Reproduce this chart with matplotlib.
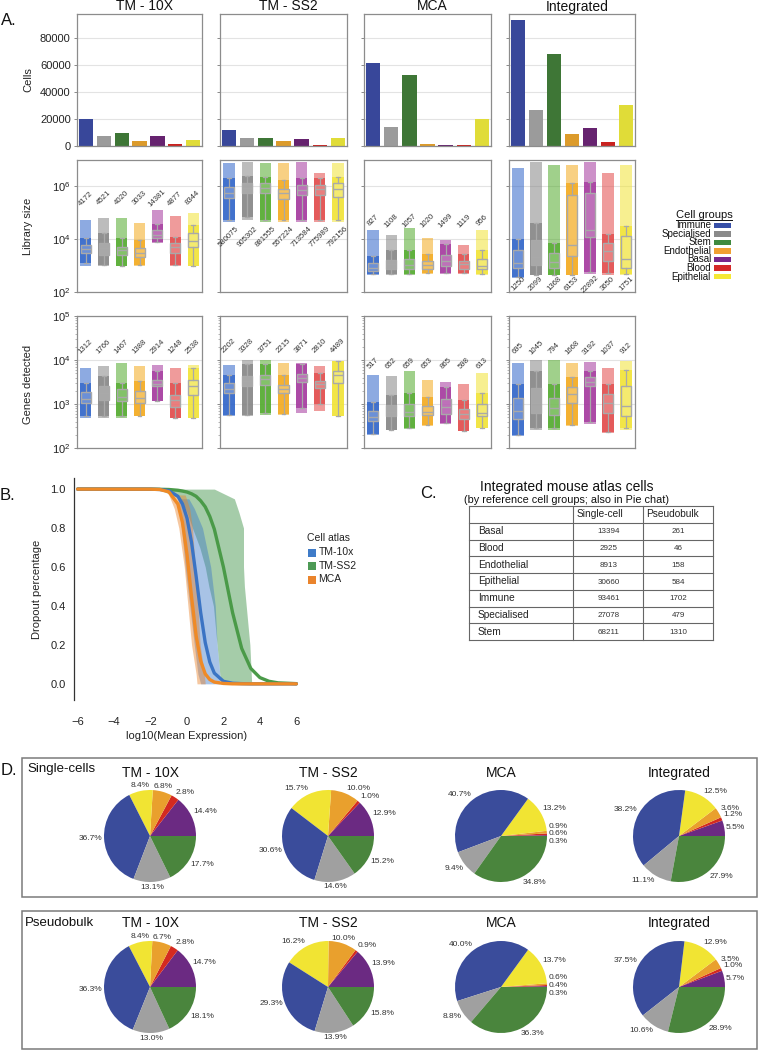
import matplotlib
matplotlib.use("Agg")
import matplotlib.pyplot as plt
from matplotlib.patches import Rectangle
from matplotlib.lines import Line2D
from matplotlib.ticker import NullLocator, LogLocator, FixedLocator, FormatStrFormatter
import numpy as np

plt.rcParams['font.family'] = ['Liberation Sans', 'DejaVu Sans']
plt.rcParams['mathtext.fontset'] = 'custom'
plt.rcParams['mathtext.rm'] = 'Liberation Sans'
plt.rcParams['mathtext.it'] = 'Liberation Sans:italic'
plt.rcParams['mathtext.bf'] = 'Liberation Sans:bold'
plt.rcParams['axes.unicode_minus'] = True

# ------------------------------------------------------------------ data
groups = ["Immune", "Specialised", "Stem", "Endothelial", "Basal", "Blood", "Epithelial"]
atlases = ["TM - 10X", "TM - SS2", "MCA", "Integrated"]

# Panel C table (alphabetical order, also pie order)
table_groups = ["Basal", "Blood", "Endothelial", "Epithelial", "Immune", "Specialised", "Stem"]
table_single = [13394, 2925, 8913, 30660, 93461, 27078, 68211]
table_pseudo = [261, 46, 158, 584, 1702, 479, 1310]

# Panel A row 1: number of cells (order = groups)
cells_tm10x = [19800, 7070, 9560, 3670, 7780, 1510, 4540]
cells_tmss2 = [11890, 5670, 5900, 3890, 5010, 390, 6100]
cells_mca = [61430, 14190, 52520, 1360, 450, 905, 19920]
cells_integrated = [table_single[table_groups.index(g)] for g in groups]

# Panel A rows 2/3: medians (labels) and log10 spreads
# spread tuple: (cloud_low, whisker_low, q1, q3, whisker_high, cloud_high) in log10
lib_med_tm10x = [4172, 4521, 4020, 3033, 14381, 4877, 8344]
lib_med_tmss2 = [580075, 905302, 881555, 557224, 713584, 775989, 792156]
lib_med_mca = [827, 1108, 1057, 1020, 1499, 1119, 956]
lib_med_integrated = [1250, 2099, 1368, 6153, 22892, 3650, 1751]

lib_spread_tm10x = [(2.97, 3.09, 3.47, 3.79, 4.04, 4.73), (2.97, 3.03, 3.41, 3.85, 4.23, 4.79),
                    (2.97, 3.00, 3.41, 3.72, 4.04, 4.80), (2.97, 3.03, 3.32, 3.66, 3.97, 4.60),
                    (3.85, 3.90, 4.04, 4.35, 4.58, 5.10), (2.97, 3.03, 3.47, 3.85, 4.10, 4.86),
                    (2.97, 2.97, 3.72, 4.23, 4.54, 4.98)]
lib_spread_tmss2 = [(4.67, 4.73, 5.55, 5.99, 6.30, 6.87), (4.73, 4.85, 5.74, 6.11, 6.41, 6.93),
                    (4.67, 4.73, 5.74, 6.11, 6.36, 6.87), (4.67, 4.73, 5.51, 5.92, 6.23, 6.87),
                    (4.67, 4.73, 5.67, 6.05, 6.30, 6.93), (4.67, 4.73, 5.67, 6.05, 6.30, 6.49),
                    (4.67, 4.73, 5.61, 6.11, 6.36, 6.87)]
lib_spread_mca = [(2.65, 2.70, 2.78, 3.09, 3.35, 4.35), (2.65, 2.69, 2.87, 3.22, 3.60, 4.16),
                  (2.65, 2.69, 2.87, 3.25, 3.60, 4.41), (2.69, 2.72, 2.87, 3.16, 3.45, 4.04),
                  (2.69, 2.72, 2.97, 3.41, 3.80, 3.97), (2.69, 2.72, 2.87, 3.16, 3.45, 3.79),
                  (2.65, 2.69, 2.87, 3.25, 3.60, 4.35)]
lib_spread_integrated = [(2.53, 2.55, 2.91, 3.60, 4.00, 6.68), (2.65, 2.65, 3.03, 3.97, 4.60, 6.93),
                         (2.65, 2.65, 2.91, 3.47, 3.85, 6.81), (2.65, 2.65, 3.35, 5.67, 6.11, 6.81),
                         (2.70, 2.75, 4.08, 5.74, 6.18, 6.93), (2.65, 2.72, 3.16, 3.85, 4.20, 6.49),
                         (2.65, 2.69, 2.91, 4.13, 4.51, 6.81)]

genes_med_tm10x = [1312, 1766, 1467, 1388, 2914, 1248, 2538]
genes_med_tmss2 = [2202, 3328, 3751, 2215, 3871, 2810, 4489]
genes_med_mca = [517, 652, 659, 653, 865, 598, 613]
genes_med_integrated = [695, 1045, 794, 1668, 3192, 1037, 912]

genes_spread_tm10x = [(2.68, 2.72, 3.02, 3.27, 3.48, 3.82), (2.68, 2.72, 3.10, 3.40, 3.63, 3.86),
                      (2.68, 2.72, 3.06, 3.33, 3.48, 3.93), (2.72, 2.72, 3.02, 3.29, 3.52, 3.86),
                      (3.06, 3.06, 3.40, 3.55, 3.74, 3.89), (2.68, 2.68, 2.93, 3.21, 3.48, 3.82),
                      (2.68, 2.68, 3.21, 3.55, 3.82, 3.89)]
genes_spread_tmss2 = [(2.72, 2.75, 3.25, 3.48, 3.67, 3.89), (2.72, 2.75, 3.40, 3.63, 3.90, 4.00),
                      (2.75, 2.80, 3.44, 3.67, 3.90, 4.00), (2.75, 2.78, 3.25, 3.44, 3.65, 3.93),
                      (2.80, 2.90, 3.49, 3.69, 3.90, 3.93), (2.85, 3.00, 3.36, 3.53, 3.70, 3.86),
                      (2.72, 2.72, 3.48, 3.74, 3.98, 3.98)]
genes_spread_mca = [(2.30, 2.32, 2.61, 2.83, 3.05, 3.67), (2.42, 2.42, 2.72, 2.98, 3.20, 3.63),
                    (2.43, 2.45, 2.72, 3.00, 3.25, 3.74), (2.50, 2.52, 2.74, 2.95, 3.15, 3.55),
                    (2.55, 2.56, 2.78, 3.11, 3.38, 3.50), (2.38, 2.38, 2.67, 2.89, 3.10, 3.45),
                    (2.45, 2.45, 2.73, 2.99, 3.25, 3.70)]
genes_spread_integrated = [(2.27, 2.30, 2.66, 3.14, 3.45, 3.93), (2.42, 2.45, 2.80, 3.36, 3.75, 4.00),
                           (2.42, 2.45, 2.76, 3.14, 3.45, 4.00), (2.50, 2.52, 3.02, 3.38, 3.62, 3.93),
                           (2.55, 2.60, 3.40, 3.61, 3.75, 3.95), (2.35, 2.37, 2.80, 3.23, 3.45, 3.82),
                           (2.42, 2.45, 2.73, 3.40, 3.78, 3.98)]

# Panel B: fitted dropout curves
b_x = [-6, -2, -1.5, -1, -0.5, -0.25, 0, 0.25, 0.5, 0.75, 1, 1.25, 1.5, 2, 2.5, 3, 3.5, 4, 4.5, 5, 6]
b_tm10x = [1.0, 0.9996, 0.998, 0.992, 0.963, 0.924, 0.851, 0.726, 0.553, 0.366, 0.212, 0.112, 0.055,
           0.013, 0.003, 0.001, 0.0, 0.0, 0.0, 0.0, 0.0]
b_tmss2 = [1.0, 0.9997, 0.999, 0.998, 0.994, 0.990, 0.985, 0.976, 0.963, 0.940, 0.909, 0.860, 0.794,
           0.599, 0.366, 0.182, 0.079, 0.032, 0.013, 0.005, 0.001]
b_mca = [1.0, 0.9996, 0.998, 0.986, 0.923, 0.829, 0.665, 0.446, 0.247, 0.118, 0.051, 0.022, 0.009,
         0.002, 0.0, 0.0, 0.0, 0.0, 0.0, 0.0, 0.0]
# extent of the point clouds (dropout level, left and right x)
cloud_tmss2_y = [1.0, 0.95, 0.88, 0.8, 0.7, 0.6, 0.5, 0.4, 0.3, 0.2, 0.1, 0.0]
cloud_tmss2_lo = [-1.6, -0.35, 0.0, 0.3, 0.7, 1.0, 1.2, 1.45, 1.55, 1.65, 1.75, 1.85]
cloud_tmss2_hi = [1.5, 2.6, 2.85, 3.1, 3.1, 3.1, 3.15, 3.25, 3.35, 3.45, 3.5, 3.55]
cloud_tm10x_y = [0.95, 0.9, 0.8, 0.6, 0.4, 0.2, 0.05, 0.0]
cloud_tm10x_lo = [-0.5, -0.45, -0.3, -0.1, 0.15, 0.4, 0.6, 0.75]
cloud_tm10x_hi = [0.1, 0.4, 0.85, 1.3, 1.55, 1.65, 1.8, 1.8]
cloud_mca_y = [0.97, 0.9, 0.8, 0.6, 0.4, 0.2, 0.05, 0.0]
cloud_mca_lo = [-1.0, -0.7, -0.45, -0.15, 0.05, 0.25, 0.5, 0.55]
cloud_mca_hi = [-0.1, 0.15, 0.3, 0.45, 0.6, 0.72, 0.95, 1.0]
b_atlas_names = ["TM-10x", "TM-SS2", "MCA"]

# Panel D pseudobulk percentages (order = table_groups)
pb_tm10x = [14.7, 2.8, 6.7, 8.4, 36.3, 13.0, 18.1]
pb_tmss2 = [13.9, 0.9, 10.0, 16.2, 29.3, 13.9, 15.8]
pb_mca = [0.3, 0.4, 0.6, 13.7, 40.0, 8.8, 36.3]
pb_integrated = table_pseudo

# ------------------------------------------------------------------ style
bar_colors = ['#38479a', '#9b9b9b', '#3e7636', '#dc9b2b', '#66236f', '#c9221f', '#e0dc38']
strip_colors = ['#2f64c9', '#858585', '#52aa2c', '#f3aa1e', '#a4389e', '#e24a4a', '#f1e335']
legend_colors = ['#3850a8', '#8a8a8a', '#3f8a3f', '#f0a032', '#78288c', '#d42828', '#f5e834']
pie_colors_by_group = {'Immune': '#3a4c9b', 'Specialised': '#a0a0a0', 'Stem': '#4a853d',
                       'Endothelial': '#e9a02d', 'Basal': '#6b2a82', 'Blood': '#d42a20',
                       'Epithelial': '#f1e433'}
b_colors = ['#3f7bc8', '#4d9a55', '#ea842c']

W, H = 762, 1051
fig = plt.figure(figsize=(W / 100, H / 100), dpi=100)


def add_ax(x0, y0, x1, y1, **kw):
    return fig.add_axes([x0 / W, 1 - y1 / H, (x1 - x0) / W, (y1 - y0) / H], **kw)


def ftext(x, y, s, **kw):
    return fig.text(x / W, 1 - y / H, s, **kw)


def fline(x0, y0, x1, y1, **kw):
    fig.add_artist(Line2D([x0 / W, x1 / W], [1 - y0 / H, 1 - y1 / H], transform=fig.transFigure, **kw))


def frect(x0, y0, x1, y1, **kw):
    fig.add_artist(Rectangle((x0 / W, 1 - y1 / H), (x1 - x0) / W, (y1 - y0) / H,
                             transform=fig.transFigure, **kw))


spine_c = '#8c8c8c'
col_x = [(77, 202), (220, 347), (364, 491), (509, 635)]


def style_ax(ax, first):
    for s in ax.spines.values():
        s.set_color(spine_c)
        s.set_linewidth(0.9)
    ax.set_xticks([])
    ax.set_xlim(-0.5, 6.5)
    ax.tick_params(axis='y', which='major', length=2.5, width=0.6, color='#777',
                   labelsize=8, pad=2, labelcolor='#222')
    ax.tick_params(axis='y', which='minor', length=1.5, width=0.5, color='#999')
    if not first:
        ax.tick_params(axis='y', which='both', labelleft=False)
    ax.set_axisbelow(True)
    ax.yaxis.grid(True, which='major', color='#e3e3e3', lw=0.8)


# ------------------------------------------------------------------ Panel A
cells_all = [cells_tm10x, cells_tmss2, cells_mca, cells_integrated]
lib_meds = [lib_med_tm10x, lib_med_tmss2, lib_med_mca, lib_med_integrated]
lib_spreads = [lib_spread_tm10x, lib_spread_tmss2, lib_spread_mca, lib_spread_integrated]
genes_meds = [genes_med_tm10x, genes_med_tmss2, genes_med_mca, genes_med_integrated]
genes_spreads = [genes_spread_tm10x, genes_spread_tmss2, genes_spread_mca, genes_spread_integrated]
lib_label_y = [10 ** 5.55, 10 ** 4.1, 10 ** 4.7, 10 ** 2.3]
genes_label_y = [10 ** 4.3, 10 ** 4.33, 10 ** 3.93, 10 ** 4.27]

xs = np.arange(len(groups))


def draw_dist(ax, spread, med, label_y):
    stats = []
    for i, (lo, wlo, q1, q3, whi, hi) in enumerate(spread):
        c = strip_colors[i]
        ax.bar(i, 10 ** hi - 10 ** lo, bottom=10 ** lo, width=0.62, color=c, alpha=0.55, lw=0)
        ax.bar(i, 10 ** whi - 10 ** wlo, bottom=10 ** wlo, width=0.62, color=c, alpha=0.8, lw=0)
        stats.append(dict(med=med[i], q1=10 ** q1, q3=10 ** q3, whislo=10 ** wlo,
                          whishi=10 ** whi, fliers=[]))
    bc = '#a9a9a9'
    ax.bxp(stats, positions=xs, widths=0.56, showfliers=False, patch_artist=True,
           boxprops=dict(facecolor=(1, 1, 1, 0.22), edgecolor=bc, lw=1.0),
           medianprops=dict(color=bc, lw=1.0), whiskerprops=dict(color=bc, lw=0.9),
           capprops=dict(color=bc, lw=0.9), capwidths=0.22, manage_ticks=False)
    for i, m in enumerate(med):
        ax.text(i, label_y, str(m), rotation=45, ha='center', va='center',
                fontsize=5.6, color='#333')


for j in range(4):
    x0, x1 = col_x[j]
    # cells
    ax = add_ax(x0, 14, x1, 146)
    ax.bar(xs, cells_all[j], width=0.8, color=bar_colors, lw=0)
    ax.set_ylim(0, 98000)
    ax.set_yticks([0, 20000, 40000, 60000, 80000])
    style_ax(ax, j == 0)
    # library size
    ax = add_ax(x0, 160, x1, 292)
    ax.set_yscale('log')
    draw_dist(ax, lib_spreads[j], lib_meds[j], lib_label_y[j])
    ax.set_ylim(1e2, 1e7)
    ax.yaxis.set_major_locator(FixedLocator([1e2, 1e4, 1e6]))
    ax.yaxis.set_minor_locator(NullLocator())
    style_ax(ax, j == 0)
    # genes detected
    ax = add_ax(x0, 316, x1, 448)
    ax.set_yscale('log')
    draw_dist(ax, genes_spreads[j], genes_meds[j], genes_label_y[j])
    ax.set_ylim(1e2, 1e5)
    ax.yaxis.set_major_locator(FixedLocator([1e2, 1e3, 1e4, 1e5]))
    ax.yaxis.set_minor_locator(LogLocator(subs=np.arange(2, 10)))
    style_ax(ax, j == 0)
    ax.tick_params(axis='y', which='minor', labelleft=False)
    # column title
    ftext((x0 + x1) / 2 + 5, 10.5, atlases[j], ha='center', va='baseline', fontsize=10, color='#111')

ftext(28, 80, "Cells", rotation=90, ha='center', va='center', fontsize=8, color='#222')
ftext(28, 226, "Library size", rotation=90, ha='center', va='center', fontsize=8, color='#222')
ftext(28, 384, "Genes detected", rotation=90, ha='center', va='center', fontsize=8, color='#222')
ftext(1, 25, "A.", fontsize=12, va='baseline', color='#111')

# legend for cell groups
ftext(704, 218, "Cell groups", ha='center', va='baseline', fontsize=8, color='#111')
fline(676, 219.5, 732, 219.5, color='#111', lw=0.7)
for i, g in enumerate(groups):
    yc = 225.3 + 8.57 * i
    ftext(711, yc + 2.9, g, ha='right', va='baseline', fontsize=7, color='#111')
    frect(714, yc - 2.7, 731, yc + 2.7, facecolor=legend_colors[i], edgecolor='none')

# ------------------------------------------------------------------ Panel B
axb = add_ax(74, 478, 300, 700)
clouds = [(cloud_tmss2_y, cloud_tmss2_lo, cloud_tmss2_hi, b_colors[1], 0.5),
          (cloud_tm10x_y, cloud_tm10x_lo, cloud_tm10x_hi, b_colors[0], 0.45),
          (cloud_mca_y, cloud_mca_lo, cloud_mca_hi, b_colors[2], 0.45)]
for cy, clo, chi, c, a in clouds:
    axb.fill_betweenx(cy, clo, chi, color=c, alpha=a, lw=0)
axb.plot(b_x, b_tmss2, color='#4a9a48', lw=2.4, solid_capstyle='round')
axb.plot(b_x, b_tm10x, color='#3b74c4', lw=2.4, solid_capstyle='round')
axb.plot(b_x, b_mca, color='#ef8a26', lw=2.4, solid_capstyle='round')
axb.set_xlim(-6.2, 6.2)
axb.set_ylim(-0.083, 1.057)
axb.set_xticks([-6, -4, -2, 0, 2, 4, 6])
axb.set_yticks([0.0, 0.2, 0.4, 0.6, 0.8, 1.0])
axb.yaxis.set_major_formatter(FormatStrFormatter('%.1f'))
for s in ['top', 'right', 'bottom']:
    axb.spines[s].set_visible(False)
axb.spines['left'].set_color('#333')
axb.spines['left'].set_linewidth(0.9)
axb.tick_params(length=0, labelsize=8, labelcolor='#222', pad=6)
axb.tick_params(axis='x', pad=12)
axb.set_xlabel("log10(Mean Expression)", fontsize=8, color='#222', labelpad=3)
axb.set_ylabel("Dropout percentage", fontsize=8, color='#222', labelpad=6)
ftext(0, 500, "B.", fontsize=12, va='baseline', color='#111')

ftext(307, 541, "Cell atlas", ha='left', va='baseline', fontsize=7.5, color='#222')
for i, (name, c) in enumerate(zip(b_atlas_names, b_colors)):
    yc = 552.5 + 13.5 * i
    frect(308, yc - 4, 316, yc + 4, facecolor=c, edgecolor='none')
    ftext(318.5, yc + 2.8, name, ha='left', va='baseline', fontsize=7.5, color='#222')

# ------------------------------------------------------------------ Panel C
ftext(420, 498, "C.", fontsize=12, va='baseline', color='#111')
ftext(567, 491, "Integrated mouse atlas cells", ha='center', va='baseline', fontsize=10, color='#111')
ftext(567, 503, "(by reference cell groups; also in Pie chat)", ha='center', va='baseline',
      fontsize=7.8, color='#111')
tx0, tx1, tx2, tx3 = 469, 573, 643, 713
ty0, ty1 = 506, 640
nrows = len(table_groups) + 1
rh = (ty1 - ty0) / nrows
tc = '#666'
for k in range(nrows + 1):
    fline(tx0, ty0 + k * rh, tx3, ty0 + k * rh, color=tc, lw=0.8)
for xv in (tx0, tx1, tx2, tx3):
    fline(xv, ty0, xv, ty1, color=tc, lw=0.8)
ftext(tx1 + 3.5, ty0 + rh / 2 + 3, "Single-cell", ha='left', va='baseline', fontsize=7.3, color='#222')
ftext(tx2 + 3.5, ty0 + rh / 2 + 3, "Pseudobulk", ha='left', va='baseline', fontsize=7.3, color='#222')
for k, g in enumerate(table_groups):
    yc = ty0 + (k + 1.5) * rh
    ftext(tx0 + 9, yc + 3, g, ha='left', va='baseline', fontsize=7.3, color='#222')
    ftext((tx1 + tx2) / 2 + 1, yc + 2.3, str(table_single[k]), ha='center', va='baseline',
          fontsize=5.8, color='#333')
    ftext((tx2 + tx3) / 2, yc + 2.3, str(table_pseudo[k]), ha='center', va='baseline',
          fontsize=5.8, color='#333')

# ------------------------------------------------------------------ Panel D
ftext(1, 775, "D.", fontsize=12, va='baseline', color='#111')
frect(22, 758, 757, 897, fill=False, edgecolor='#7a7a7a', lw=1.1)
frect(22, 911, 757, 1049, fill=False, edgecolor='#7a7a7a', lw=1.1)
ftext(27, 772, "Single-cells", ha='left', va='baseline', fontsize=9.5, color='#111')
ftext(25, 926, "Pseudobulk", ha='left', va='baseline', fontsize=9.5, color='#111')

single_alpha = [[c[groups.index(g)] for g in table_groups]
                for c in (cells_tm10x, cells_tmss2, cells_mca, cells_integrated)]
pseudo_alpha = [pb_tm10x, pb_tmss2, pb_mca, pb_integrated]
pie_colors = [pie_colors_by_group[g] for g in table_groups]
pie_cx = [150, 328, 501, 679]


def spread_labels(texts, gap=0.17):
    right = [t for t in texts if t.get_position()[0] > 0]
    right.sort(key=lambda t: t.get_position()[1])
    ys = [t.get_position()[1] for t in right]
    orig = list(ys)
    moved = [False] * len(ys)
    for i in range(1, len(ys)):
        if ys[i] - ys[i - 1] < gap:
            ys[i] = ys[i - 1] + gap
            moved[i] = True
            moved[i - 1] = True
    i = 0
    while i < len(ys):
        if moved[i]:
            j = i
            while j + 1 < len(ys) and moved[j + 1] and ys[j + 1] - ys[j] <= gap + 1e-9:
                j += 1
            shift = np.mean(orig[i:j + 1]) - np.mean(ys[i:j + 1])
            for k in range(i, j + 1):
                ys[k] += shift
            i = j + 1
        else:
            i += 1
    for t, y in zip(right, ys):
        t.set_position((t.get_position()[0], y))


def draw_pie(cx, cy, vals, title, ty):
    r = 46
    ax = add_ax(cx - r, cy - r, cx + r, cy + r)
    wedges, _, autotexts = ax.pie(vals, colors=pie_colors, startangle=0, counterclock=True,
                                  wedgeprops=dict(linewidth=0), autopct='%1.1f%%',
                                  pctdistance=1.04, textprops=dict(fontsize=6, color='#333'))
    ax.set_xlim(-1, 1)
    ax.set_ylim(-1, 1)
    for t in autotexts:
        x, y = t.get_position()
        d = np.hypot(x, y)
        c, s = x / d, y / d
        t.set_ha('center' if abs(c) < 0.35 else ('left' if c > 0 else 'right'))
        t.set_va('center' if abs(s) < 0.35 else ('bottom' if s > 0 else 'top'))
    spread_labels([t for t in autotexts if t.get_va() == 'center'])
    ftext(cx, ty, title, ha='center', va='baseline', fontsize=10, color='#111')


for j in range(4):
    draw_pie(pie_cx[j], 836, single_alpha[j], atlases[j], 777)
    draw_pie(pie_cx[j], 987, pseudo_alpha[j], atlases[j], 927)

fig.savefig("out.png", dpi=100)
